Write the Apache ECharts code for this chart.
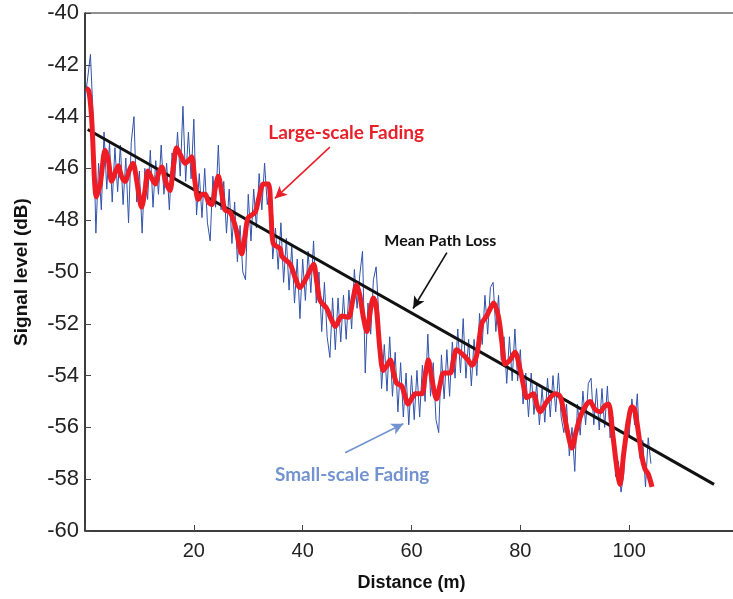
<!DOCTYPE html>
<html>
<head>
<meta charset="utf-8">
<script src="https://cdn.jsdelivr.net/npm/echarts@6.0.0/dist/echarts.min.js"></script>
<style>
html, body { margin: 0; padding: 0; background: #fff; }
#main { width: 733px; height: 599px; }
</style>
</head>
<body>
<div id="main"></div>
<script>
// small-scale fading samples, one every 0.5 m from 0 m
var blueStart = 0;
var blueStep = 0.5;
var blueLevel = [
    -43.3, -42.5, -41.6, -44.0, -48.5, -45.8, -47.6, -44.6, -46.8, -45.0,
    -47.3, -45.2, -46.9, -45.1, -47.4, -45.6, -48.1, -45.0, -44.0, -47.3,
    -46.1, -48.5, -46.0, -47.2, -45.3, -47.5, -45.7, -47.0, -45.1, -47.0,
    -45.8, -47.6, -45.4, -46.4, -44.6, -46.3, -43.6, -46.5, -44.6, -46.4,
    -44.1, -47.8, -46.2, -47.9, -46.0, -48.1, -48.8, -46.3, -47.5, -45.1,
    -47.6, -46.5, -48.5, -46.8, -48.9, -47.3, -49.6, -48.2, -50.0, -50.3,
    -47.0, -48.8, -46.8, -48.3, -46.2, -47.6, -45.8, -47.4, -46.6, -49.5,
    -48.3, -49.9, -48.1, -50.4, -48.7, -50.7, -49.0, -51.2, -49.5, -51.8,
    -49.5, -51.1, -49.2, -50.8, -48.8, -51.2, -50.0, -52.3, -50.4, -52.5,
    -53.3, -51.0, -53.0, -51.0, -52.7, -50.9, -52.6, -50.7, -52.2, -49.9,
    -51.4, -50.1, -49.2, -53.9, -51.2, -52.4, -50.3, -49.8, -51.7, -54.5,
    -52.8, -54.6, -52.5, -54.8, -53.1, -55.4, -53.5, -55.6, -53.9, -55.9,
    -54.0, -55.7, -53.8, -55.6, -53.6, -55.0, -52.4, -54.8, -53.5, -55.7,
    -56.2, -53.2, -54.9, -53.0, -54.8, -52.7, -54.1, -52.2, -53.9, -51.8,
    -54.1, -52.6, -54.4, -52.6, -54.0, -51.6, -52.8, -50.9, -52.4, -50.6,
    -50.4, -52.3, -50.9, -53.4, -52.5, -54.3, -52.5, -54.2, -52.2, -54.2,
    -53.0, -55.1, -53.9, -55.6, -53.9, -55.5, -54.3, -55.9, -54.5, -55.8,
    -54.1, -55.6, -54.0, -55.4, -53.9, -55.6, -56.2, -55.1, -57.1, -56.0,
    -57.7, -55.1, -56.3, -54.6, -55.9, -54.3, -54.1, -55.9, -54.5, -56.1,
    -54.5, -56.0, -54.4, -56.4, -55.6, -57.9, -57.3, -58.5, -57.8, -55.7,
    -56.3, -54.9, -55.9, -54.7, -57.2, -56.5, -58.3, -56.4, -57.4
];

// large-scale fading (local mean)
var redDist = [
    0.2, 0.7, 1.2, 2.1, 2.8, 3.7, 4.3, 4.9, 5.5, 6.1, 6.7, 7.35, 8.1, 8.8, 9.6,
    10.4, 11.0, 11.6, 12.3, 12.9, 13.5, 14.1, 14.8, 15.6, 16.2, 16.85, 17.6, 18.4, 19.0, 19.6,
    20.2, 20.8, 21.5, 22.1, 22.7, 23.3, 23.9, 24.5, 25.1, 25.7, 26.7, 27.7, 28.8, 29.4, 30.0,
    31.25, 32.0, 32.8, 33.7, 34.2, 34.6, 35.85, 36.2, 37.7, 38.6, 39.5, 40.75, 42.0, 42.6, 43.2,
    44.4, 45.2, 46.0, 47.2, 48.4, 49.2, 49.9, 50.5, 51.2, 51.8, 52.5, 53.0, 53.5, 54.2, 54.8,
    55.5, 56.1, 56.7, 57.3, 58.2, 59.4, 60.0, 60.7, 61.9, 62.5, 63.1, 63.8, 64.6, 65.3, 65.9,
    67.1, 67.7, 68.3, 69.5, 70.4, 71.1, 72.0, 72.9, 73.8, 74.5, 75.1, 76.0, 76.6, 77.2, 78.1,
    79.0, 80.0, 80.6, 81.2, 82.4, 83.0, 83.6, 84.9, 86.4, 87.3, 87.9, 88.6, 89.5, 90.2, 91.0,
    91.9, 92.8, 93.7, 94.7, 95.4, 96.2, 97.0, 97.7, 98.3, 99.0, 99.8, 100.5, 101.0, 101.7, 102.3,
    102.9, 103.5, 104.2
];
var redLevel = [
    -42.9, -43.0, -44.0, -47.1, -46.6, -45.3, -45.7, -46.5, -46.2, -45.9, -46.3, -46.5, -46.1, -45.8, -46.6,
    -47.5, -46.9, -46.1, -46.4, -46.6, -46.2, -45.95, -46.5, -46.85, -46.0, -45.2, -45.5, -45.8, -45.7, -45.55,
    -46.5, -47.2, -47.0, -47.0, -47.3, -47.4, -46.8, -46.3, -46.9, -47.6, -47.7, -48.3, -49.3, -48.6, -47.9,
    -47.7, -47.1, -46.6, -46.6, -47.8, -48.9, -49.1, -49.4, -49.7, -50.2, -50.6, -50.2, -49.7, -50.4, -51.1,
    -51.4, -51.8, -52.1, -51.7, -51.75, -51.1, -50.5, -50.9, -51.8, -52.3, -51.4, -51.0, -51.3, -53.0, -53.8,
    -53.6, -53.4, -53.9, -54.3, -54.4, -55.1, -54.9, -54.7, -54.7, -54.0, -53.4, -54.2, -54.9, -54.3, -53.9,
    -53.9, -53.4, -53.0, -53.2, -53.4, -53.6, -53.2, -52.0, -51.7, -51.4, -51.2, -51.75, -52.7, -53.55, -53.4,
    -53.1, -53.8, -54.4, -54.85, -54.7, -55.1, -55.4, -55.0, -54.7, -54.8, -55.3, -56.1, -56.8, -56.2, -55.6,
    -55.2, -55.0, -55.3, -55.4, -55.2, -55.1, -56.3, -57.5, -58.2, -57.0, -55.8, -55.2, -55.3, -56.2, -57.1,
    -57.6, -57.8, -58.3
];

// mean path loss fit
var meanDist = [0.5, 115.6];
var meanLevel = [-44.5, -58.2];

var yTicks = [-60, -58, -56, -54, -52, -50, -48, -46, -44, -42, -40];
var xTicks = [20, 40, 60, 80, 100];

var blueData = blueLevel.map(function (v, i) { return [blueStart + i * blueStep, v]; });
var redData = redDist.map(function (d, i) { return [d, redLevel[i]]; });
var meanData = meanDist.map(function (d, i) { return [d, meanLevel[i]]; });

var myChart = echarts.init(document.getElementById('main'));

var labelFont = 'Liberation Sans';
var noteFont = 'Lato';

var option = {
    animation: false,
    grid: {
        left: 85,
        top: 13,
        right: -5,
        bottom: 68,
        outerBoundsMode: 'none',
        containLabel: false,
        show: true,
        borderColor: '#222',
        borderWidth: 1
    },
    xAxis: {
        type: 'value',
        min: 0,
        max: 120,
        interval: 20,
        name: 'Distance (m)',
        nameLocation: 'middle',
        nameGap: 43,
        nameTextStyle: { fontFamily: labelFont, fontWeight: 'bold', fontSize: 18, color: '#111' },
        axisLine: { lineStyle: { color: '#222', width: 1.5 } },
        axisTick: { inside: true, length: 6, lineStyle: { color: '#444' } },
        axisLabel: {
            fontFamily: labelFont,
            fontSize: 20,
            color: '#222',
            margin: 10,
            formatter: function (v) { return xTicks.indexOf(v) >= 0 ? String(v) : ''; }
        },
        splitLine: { show: false }
    },
    yAxis: {
        type: 'value',
        min: -60,
        max: -40,
        interval: 2,
        name: 'Signal level (dB)',
        nameLocation: 'middle',
        nameRotate: 90,
        nameGap: 54,
        nameTextStyle: { fontFamily: labelFont, fontWeight: 'bold', fontSize: 19, color: '#111' },
        axisLine: { show: true, lineStyle: { color: '#222', width: 1.5 } },
        axisTick: { show: true, inside: true, length: 6, lineStyle: { color: '#444' } },
        axisLabel: {
            fontFamily: labelFont,
            fontSize: 22,
            color: '#222',
            margin: 6,
            formatter: function (v) { return yTicks.indexOf(v) >= 0 ? String(v) : ''; }
        },
        splitLine: { show: false }
    },
    series: [
        {
            name: 'Small-scale Fading',
            type: 'line',
            data: blueData,
            showSymbol: false,
            lineStyle: { color: '#3152aa', width: 1 },
            z: 2
        },
        {
            name: 'Mean Path Loss',
            type: 'line',
            data: meanData,
            showSymbol: false,
            lineStyle: { color: '#111', width: 3 },
            z: 3,
            markLine: {
                silent: true,
                symbol: ['none', 'arrow'],
                symbolSize: [9, 12],
                label: { show: false },
                data: [
                    [{ coord: [45.0, -45.18], lineStyle: { color: '#e8202a', width: 1.6, type: 'solid' } }, { coord: [34.9, -47.16] }],
                    [{ coord: [66.5, -49.25], lineStyle: { color: '#111', width: 1.6, type: 'solid' } }, { coord: [60.3, -51.41] }],
                    [{ coord: [47.8, -56.98], lineStyle: { color: '#7393d0', width: 1.6, type: 'solid' } }, { coord: [58.5, -55.86] }]
                ]
            }
        },
        {
            name: 'Large-scale Fading',
            type: 'line',
            data: redData,
            showSymbol: false,
            smooth: 0.3,
            lineStyle: { color: '#ee1d25', width: 5 },
            z: 4
        }
    ]
};
myChart.setOption(option);

// annotation texts placed at data positions
var notes = [
    { text: 'Large-scale Fading', at: [48.0, -44.64], color: '#e8202a', size: 19 },
    { text: 'Mean Path Loss', at: [65.3, -48.78], color: '#111', size: 16 },
    { text: 'Small-scale Fading', at: [49.1, -57.83], color: '#7393d0', size: 19 }
];
myChart.setOption({
    graphic: notes.map(function (n) {
        var p = myChart.convertToPixel({ gridIndex: 0 }, n.at);
        return {
            type: 'text',
            x: p[0],
            y: p[1],
            z: 10,
            style: {
                text: n.text,
                fill: n.color,
                font: 'bold ' + n.size + 'px ' + noteFont,
                align: 'center',
                verticalAlign: 'middle'
            }
        };
    })
});
</script>
</body>
</html>
